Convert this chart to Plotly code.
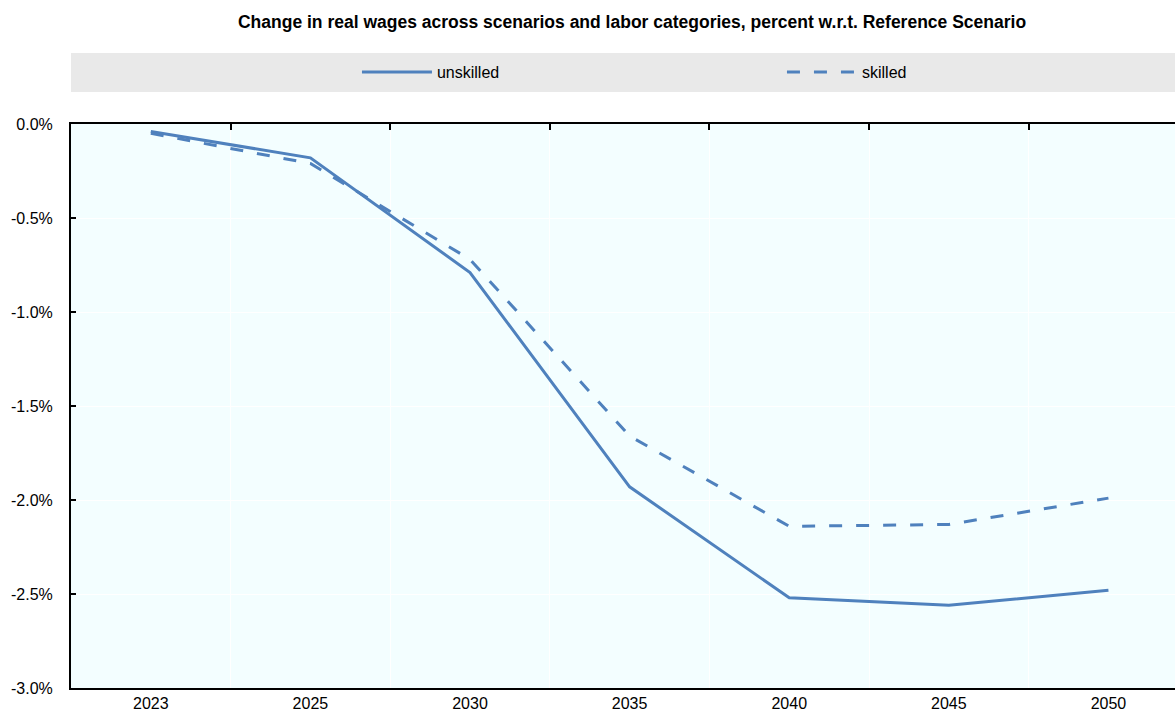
import plotly.graph_objects as go

years = ["2023", "2025", "2030", "2035", "2040", "2045", "2050"]
unskilled = [-0.04, -0.18, -0.79, -1.93, -2.52, -2.56, -2.48]
skilled = [-0.05, -0.21, -0.72, -1.66, -2.14, -2.13, -1.99]
y_ticks = [0.0, -0.5, -1.0, -1.5, -2.0, -2.5, -3.0]
y_labels = ["0.0%", "-0.5%", "-1.0%", "-1.5%", "-2.0%", "-2.5%", "-3.0%"]

FONT = "Liberation Sans, Arial, sans-serif"
BLUE = "#4F81BD"

fig = go.Figure()
fig.add_trace(go.Scatter(x=years, y=unskilled, name="unskilled", mode="lines",
                         line=dict(color=BLUE, width=3), legend="legend"))
fig.add_trace(go.Scatter(x=years, y=skilled, name="skilled", mode="lines",
                         line=dict(color=BLUE, width=3, dash="13px,14px"), legend="legend2"))
# invisible trace to drive top axis
fig.add_trace(go.Scatter(x=years, y=unskilled, xaxis="x2", mode="lines",
                         line=dict(width=0), showlegend=False, hoverinfo="skip"))

xr = [-0.5, 6.417]
leg_common = dict(orientation="h", xref="container", yref="container", xanchor="left",
                  yanchor="middle", y=0.899, bgcolor="rgba(0,0,0,0)",
                  font=dict(family=FONT, size=16, color="#000000"), itemwidth=70)
fig.update_layout(
    width=1175, height=713,
    margin=dict(l=71, r=0, t=124, b=25),
    paper_bgcolor="white",
    plot_bgcolor="#F3FEFF",
    font=dict(family=FONT, size=16, color="#000000"),
    title=dict(text="<b>Change in real wages across scenarios and labor categories, percent w.r.t. Reference Scenario</b>",
               x=0.5379, xref="container", y=0.969, yref="container", xanchor="center", yanchor="middle",
               font=dict(family=FONT, size=17.5, color="#000000")),
    xaxis=dict(type="category", range=xr, tickson="boundaries", ticks="",
               showgrid=True, gridcolor="white", gridwidth=1,
               showline=True, linecolor="black", linewidth=2,
               tickfont=dict(family=FONT, size=16), zeroline=False),
    xaxis2=dict(type="category", range=xr, overlaying="x", side="top",
                tickson="boundaries", ticks="inside", ticklen=6, tickwidth=1.5, tickcolor="black",
                showticklabels=False, showgrid=False,
                showline=True, linecolor="black", linewidth=2),
    yaxis=dict(range=[-3.0, 0.0], tickvals=y_ticks, ticktext=y_labels,
               ticks="inside", ticklen=5, tickwidth=1.5, tickcolor="black",
               showgrid=True, gridcolor="white", gridwidth=1,
               showline=True, linecolor="black", linewidth=2, zeroline=False,
               tickfont=dict(family=FONT, size=16), ticklabelstandoff=13),
    showlegend=True,
    legend=dict(x=0.3038, **leg_common),
    legend2=dict(x=0.6655, **leg_common),
    shapes=[dict(type="rect", xref="paper", yref="paper", x0=0, x1=1,
                 y0=1.0567, y1=1.1259, fillcolor="#E9E9E9", line=dict(width=0), layer="below")],
)

fig.write_html("out.html", config={"displayModeBar": False},
               post_script="document.body.style.margin='0';document.body.style.overflow='hidden';")
